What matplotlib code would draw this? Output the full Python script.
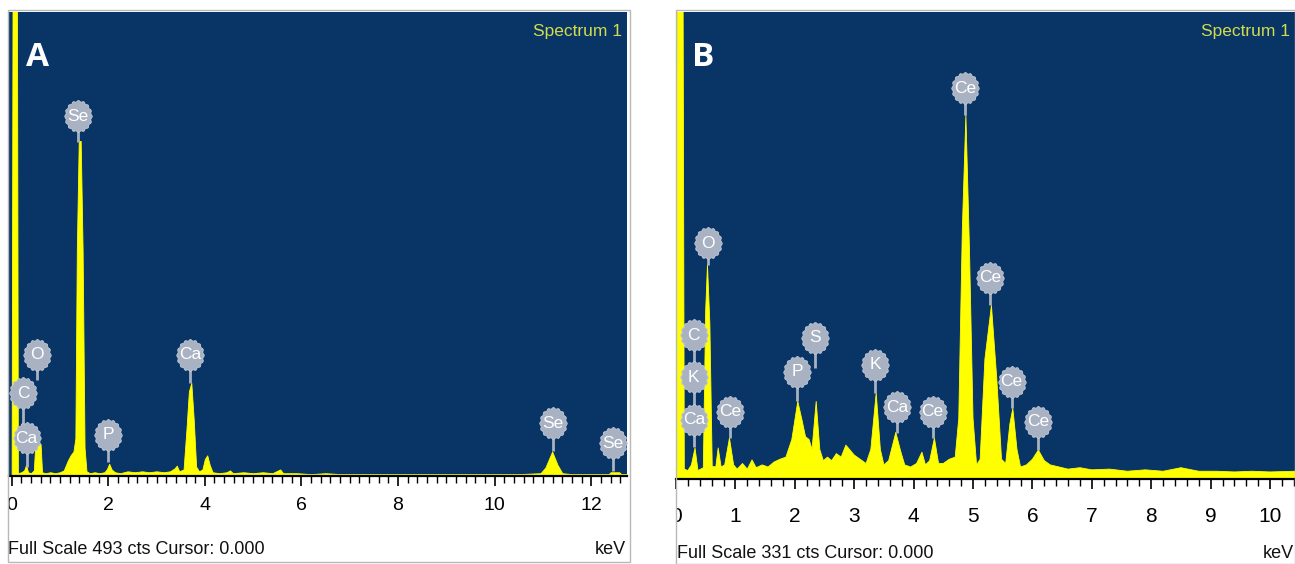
import numpy as np
import matplotlib.pyplot as plt
from matplotlib.path import Path
from matplotlib.patches import Rectangle
from matplotlib.ticker import MultipleLocator, FormatStrFormatter

# spectrum A, energy (keV) and counts
a_kev = [0.00, 0.02, 0.11, 0.13, 0.20, 0.26, 0.30, 0.34, 0.40, 0.46, 0.49, 0.52, 0.60, 0.63,
         0.70, 0.80, 0.90, 1.00, 1.08, 1.16, 1.22, 1.28, 1.32, 1.35, 1.39, 1.43, 1.47, 1.51,
         1.55, 1.62, 1.72, 1.82, 1.92, 1.97, 2.02, 2.07, 2.14, 2.25, 2.40, 2.55, 2.70, 2.85,
         3.00, 3.15, 3.28, 3.37, 3.42, 3.47, 3.56, 3.62, 3.67, 3.72, 3.77, 3.82, 3.88, 3.95,
         4.00, 4.05, 4.10, 4.16, 4.30, 4.45, 4.52, 4.58, 4.80, 5.00, 5.20, 5.40, 5.56, 5.62,
         5.90, 6.20, 6.50, 6.80, 7.10, 7.50, 8.00, 8.50, 9.00, 9.50, 10.00, 10.50, 10.95, 11.05,
         11.19, 11.30, 11.40, 11.60, 12.00, 12.36, 12.40, 12.58, 12.62, 12.74]
a_cts = [0, 520, 520, 3, 4, 6, 12, 4, 3, 6, 34, 36, 34, 4,
         3, 4, 3, 4, 6, 16, 22, 26, 40, 240, 356, 356, 240, 30,
         5, 3, 4, 3, 4, 7, 13, 7, 4, 3, 5, 4, 5, 4,
         5, 4, 5, 8, 11, 5, 7, 50, 90, 99, 60, 10, 5, 7,
         18, 22, 12, 4, 3, 4, 6, 3, 4, 3, 4, 3, 7, 3,
         3, 2, 3, 2, 2, 2, 2, 2, 2, 2, 2, 2, 3, 9,
         26, 12, 3, 2, 2, 2, 4, 4, 2, 2]
a_full = 493

# element tags on spectrum A: name, energy, tag height, where the stem ends
a_labels = ['Se', 'O', 'C', 'Ca', 'P', 'Ca', 'Se', 'Se']
a_label_kev = [1.375, 0.53, 0.24, 0.31, 2.0, 3.69, 11.2, 12.45]
a_label_cts = [382, 129, 88, 40, 44, 129, 56, 35]
a_stem_cts = [355, 102, 40, 10, 15, 99, 27, 5]

# spectrum B
b_kev = [0.00, 0.03, 0.11, 0.14, 0.20, 0.26, 0.32, 0.37, 0.46, 0.50, 0.53, 0.57, 0.61, 0.67,
         0.71, 0.76, 0.82, 0.90, 0.97, 1.03, 1.12, 1.20, 1.28, 1.35, 1.45, 1.55, 1.65, 1.75,
         1.85, 1.95, 2.05, 2.12, 2.18, 2.24, 2.29, 2.36, 2.42, 2.48, 2.55, 2.62, 2.70, 2.78,
         2.86, 2.92, 3.00, 3.10, 3.20, 3.28, 3.37, 3.44, 3.50, 3.58, 3.70, 3.78, 3.85, 3.95,
         4.05, 4.14, 4.20, 4.27, 4.35, 4.42, 4.50, 4.60, 4.70, 4.76, 4.82, 4.88, 4.94, 5.00,
         5.06, 5.12, 5.20, 5.31, 5.40, 5.48, 5.55, 5.62, 5.67, 5.74, 5.80, 5.90, 6.00, 6.10,
         6.20, 6.30, 6.45, 6.60, 6.80, 7.00, 7.30, 7.60, 7.90, 8.20, 8.50, 8.80, 9.10, 9.40,
         9.70, 10.00, 10.42]
b_cts = [0, 500, 500, 7, 6, 10, 22, 6, 8, 120, 152, 110, 9, 8.5,
         22, 8.5, 10, 29, 10, 7, 11, 7, 13.5, 8, 10, 8.5, 12, 14,
         15.5, 28, 55, 42, 30, 28, 21, 55, 21, 13, 15.5, 13, 18, 15.5,
         24, 21, 17, 14, 11, 21, 61, 21, 10, 13, 33, 20, 10, 8.5,
         11, 19, 10, 13, 29, 11, 11, 14, 15.5, 43, 177, 258, 163, 43,
         10, 14, 85, 123, 71, 14, 11, 39, 50, 21, 8.5, 10, 14, 20.5,
         13, 10, 8.5, 7, 8, 6.5, 7, 5.5, 6.5, 5.5, 8, 5.5, 5.5, 5,
         5.5, 5, 5.5]
b_full = 331

b_labels = ['Ce', 'O', 'Ce', 'C', 'K', 'Ca', 'Ce', 'P', 'S', 'K', 'Ca', 'Ce', 'Ce', 'Ce']
b_label_kev = [4.865, 0.534, 5.29, 0.30, 0.30, 0.31, 0.91, 2.04, 2.34, 3.35, 3.72, 4.32, 5.65, 6.10]
b_label_cts = [277, 167, 142.5, 102, 72, 42, 47.5, 76, 100, 81, 51, 47.5, 69, 40.6]
b_stem_cts = [258, 152, 123, 72, 42, 22.7, 29, 55, 79, 61, 32.6, 29, 50, 20.6]

W, H = 1295, 564
BLUE = '#093566'
YELLOW = '#ffff00'
TAG = '#a9b2c2'

# no narrow Arial here, Liberation Sans at smaller sizes keeps the widths
plt.rcParams['font.family'] = ['Liberation Sans', 'DejaVu Sans']

# scalloped tag shape like the INCA element markers
t = np.linspace(0, 2 * np.pi, 145)
r = 1 + 0.045 * np.cos(16 * t)
tag = Path(np.column_stack([0.86 * r * np.sin(t), r * np.cos(t)]), closed=True)


def fbox(x0, y0, x1, y1):
    # pixel box (top-left origin) -> figure fraction rect
    return [x0 / W, 1 - y1 / H, (x1 - x0) / W, (y1 - y0) / H]


def panel(box, xlim, kev, cts, full, major, labels, lab_kev, lab_cts, stem_cts, pad, fs):
    ax = fig.add_axes(fbox(*box))
    ax.set_facecolor(BLUE)
    ax.fill_between(kev, cts, color=YELLOW, lw=0.6, zorder=2)
    ax.set_xlim(*xlim)
    ax.set_ylim(0, full)

    for name, e, yl, ys in zip(labels, lab_kev, lab_cts, stem_cts):
        ax.plot([e, e], [yl, ys], color=TAG, lw=2, zorder=3, solid_capstyle='butt')
        ax.plot(e, yl, marker=tag, ms=23, mfc=TAG, mec='#c3cad6', mew=0.6, zorder=4)
        ax.text(e, yl, name, color='white', ha='center', va='center', fontsize=12.5, zorder=5)

    ax.text(0.992, 0.975, 'Spectrum 1', transform=ax.transAxes, ha='right', va='top',
            color='#d2dc4c', fontsize=12.5)

    ax.xaxis.set_major_locator(MultipleLocator(major))
    ax.xaxis.set_minor_locator(MultipleLocator(0.2))
    ax.xaxis.set_major_formatter(FormatStrFormatter('%d'))
    ax.tick_params(axis='x', which='major', direction='out', length=7.5, width=1.2,
                   pad=pad, labelsize=fs, colors='black')
    ax.tick_params(axis='x', which='minor', direction='out', length=5, width=1, colors='black')
    ax.set_yticks([])
    for s in ['top', 'left', 'right']:
        ax.spines[s].set_visible(False)
    ax.spines['bottom'].set_linewidth(1.6)
    return ax


fig = plt.figure(figsize=(12.95, 5.64), dpi=100)

ax_a = panel((9, 12, 627, 476), (-0.054, 12.74), a_kev, a_cts, a_full, 2,
             a_labels, a_label_kev, a_label_cts, a_stem_cts, 7.5, 14)
ax_b = panel((676, 12, 1295, 479), (0, 10.42), b_kev, b_cts, b_full, 1,
             b_labels, b_label_kev, b_label_cts, b_stem_cts, 12.5, 15)

# light frames around each panel, the tick label at 0 is cut by them
frames = [(8, 10, 630, 562), (676, 10, 1295, 564)]
for ax, (x0, y0, x1, y1) in zip([ax_a, ax_b], frames):
    rect = Rectangle(fbox(x0, y0, x1, y1)[:2], (x1 - x0) / W, (y1 - y0) / H,
                     transform=fig.transFigure, fill=False, ec='#b8b8b8', lw=1)
    fig.add_artist(rect)
    clip = Rectangle(fbox(x0, y0, x1, y1)[:2], (x1 - x0) / W, (y1 - y0) / H,
                     transform=fig.transFigure, visible=False)
    fig.add_artist(clip)
    for lbl in ax.get_xticklabels():
        lbl.set_clip_path(clip)

# panel letters
fig.text(38 / W, 1 - 57 / H, 'A', color='white', fontsize=24, weight='bold',
         family='Open Sans', ha='center', va='center')
fig.text(703 / W, 1 - 57 / H, 'B', color='white', fontsize=24, weight='bold',
         family='Open Sans', ha='center', va='center')

# status lines under each spectrum
fig.text(8 / W, 1 - 549 / H, 'Full Scale 493 cts Cursor: 0.000', fontsize=13,
         ha='left', va='center', color='#111111')
fig.text(626 / W, 1 - 549 / H, 'keV', fontsize=13, ha='right', va='center', color='#111111')
fig.text(677 / W, 1 - 553 / H, 'Full Scale 331 cts Cursor: 0.000', fontsize=13,
         ha='left', va='center', color='#111111')
fig.text(1294 / W, 1 - 553 / H, 'keV', fontsize=13, ha='right', va='center', color='#111111')

fig.savefig('out.png', dpi=100)
